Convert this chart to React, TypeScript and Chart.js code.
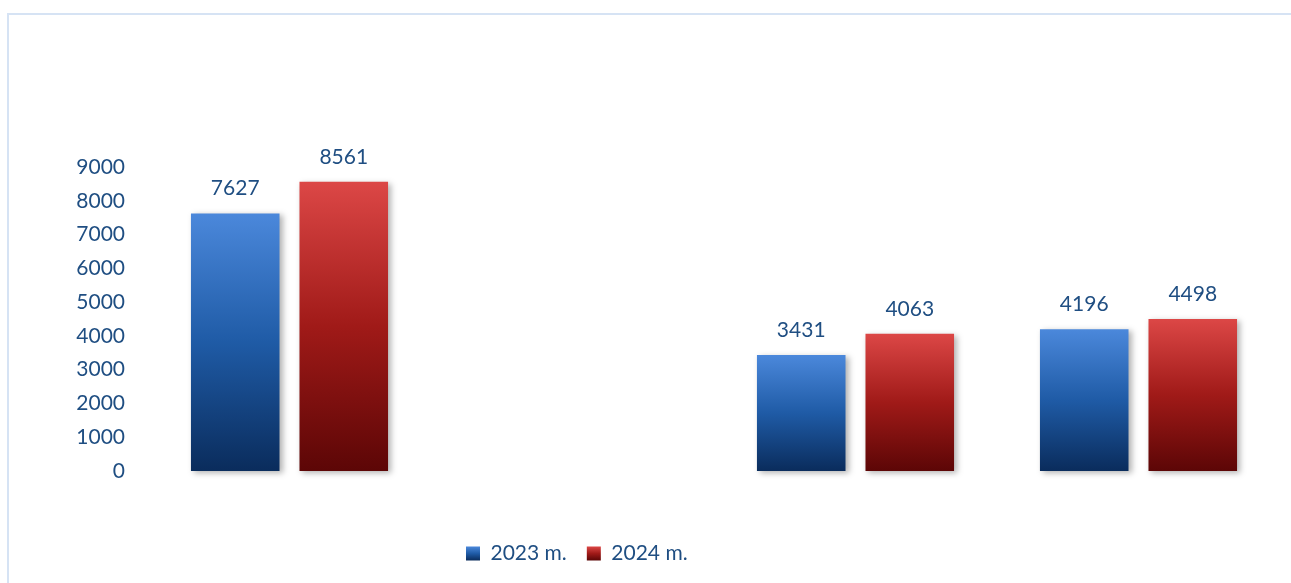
import React, { useEffect, useRef } from "react";
import { Chart, registerables } from "chart.js";

Chart.register(...registerables);

const categories = ["1", "2", "3", "4"];
const series2023 = [7627, null, 3431, 4196];
const series2024 = [8561, null, 4063, 4498];
const seriesLabels = ["2023 m.", "2024 m."];
const yMin = 0;
const yMax = 9000;
const yStep = 1000;

const TEXT = "#1F4E82";
const FONT = "Lato";
const blueStops = ["#4B88DB", "#1F5BA6", "#0A2C5C"];
const redStops = ["#DC4746", "#A01A18", "#5C0606"];

function grad(c: CanvasRenderingContext2D, top: number, bottom: number, stops: string[]) {
  const g = c.createLinearGradient(0, top, 0, bottom);
  g.addColorStop(0, stops[0]);
  g.addColorStop(0.5, stops[1]);
  g.addColorStop(1, stops[2]);
  return g;
}

function barFill(stops: string[]) {
  return (ctx: any) => {
    const chart = ctx.chart;
    const ys = chart.scales && chart.scales.y;
    if (!chart.chartArea || !ys || ctx.raw == null || ctx.type !== "data") return stops[1];
    const top = ys.getPixelForValue(ctx.raw);
    const bottom = ys.getPixelForValue(0);
    return grad(chart.ctx, top, bottom, stops);
  };
}

const shadowPlugin = {
  id: "barShadow",
  beforeDatasetsDraw(chart: any) {
    const c = chart.ctx;
    c.save();
    c.shadowColor = "rgba(0,0,0,0.3)";
    c.shadowBlur = 6;
    c.shadowOffsetX = 3;
    c.shadowOffsetY = 2;
  },
  afterDatasetsDraw(chart: any) {
    chart.ctx.restore();
  },
};

const valueLabels = {
  id: "valueLabels",
  afterDatasetsDraw(chart: any) {
    const c = chart.ctx;
    c.save();
    c.font = `21px ${FONT}`;
    c.fillStyle = TEXT;
    c.textAlign = "center";
    c.textBaseline = "middle";
    chart.data.datasets.forEach((ds: any, i: number) => {
      const meta = chart.getDatasetMeta(i);
      meta.data.forEach((bar: any, j: number) => {
        const v = ds.data[j];
        if (v == null) return;
        c.fillText(String(v), bar.x, bar.y - 25);
      });
    });
    c.restore();
  },
};

const legendPlace = {
  id: "legendPlace",
  afterUpdate(chart: any) {
    const lg = chart.legend;
    if (!lg || !lg.lineWidths) return;
    const pad = lg.options.labels.padding;
    const h = lg.bottom - lg.top;
    const T = 523;
    lg.top = T;
    lg.bottom = T + h;
    const W = lg.right - lg.left;
    const S = 2 * 466 - pad + lg.lineWidths[0];
    lg.left = (S - W) / 2;
    lg.right = lg.left + W;
    const boxTop = T + pad + 3.5;
    const stops = [blueStops, redStops];
    (lg.legendItems || []).forEach((it: any, i: number) => {
      it.fillStyle = grad(chart.ctx, boxTop, boxTop + 14, stops[i % 2]);
      it.lineWidth = 0;
    });
  },
};

export default function App() {
  const ref = useRef<HTMLCanvasElement | null>(null);
  useEffect(() => {
    if (!ref.current) return;
    const chart = new Chart(ref.current, {
      type: "bar",
      data: {
        labels: categories,
        datasets: [
          {
            label: seriesLabels[0],
            data: series2023,
            backgroundColor: barFill(blueStops),
            borderWidth: 0,
            categoryPercentage: 0.767,
            barPercentage: 0.816,
            clip: false as any,
          },
          {
            label: seriesLabels[1],
            data: series2024,
            backgroundColor: barFill(redStops),
            borderWidth: 0,
            categoryPercentage: 0.767,
            barPercentage: 0.816,
            clip: false as any,
          },
        ],
      },
      options: {
        animation: false,
        responsive: false,
        maintainAspectRatio: false,
        layout: { padding: { top: 167, left: 0, right: 11, bottom: 61 } },
        scales: {
          x: { display: false },
          y: {
            min: yMin,
            max: yMax,
            border: { display: false },
            grid: { display: false, drawTicks: false },
            afterFit: (s: any) => {
              s.width = 148;
            },
            ticks: {
              stepSize: yStep,
              padding: 23,
              color: TEXT,
              font: { family: FONT, size: 21 },
              callback: (v: any) => String(v),
            },
          },
        },
        plugins: {
          tooltip: { enabled: false },
          legend: {
            position: "bottom",
            labels: {
              boxWidth: 14,
              boxHeight: 14,
              padding: 20,
              color: TEXT,
              font: { family: FONT, size: 21 },
            },
          },
        },
      },
      plugins: [shadowPlugin, valueLabels, legendPlace],
    });
    return () => chart.destroy();
  }, []);

  return (
    <div
      style={{
        position: "fixed",
        left: 0,
        top: 0,
        width: 1291,
        height: 583,
        overflow: "hidden",
        background: "#fff",
      }}
    >
      <div
        style={{
          position: "absolute",
          left: 7,
          top: 13,
          width: 1400,
          height: 700,
          border: "2px solid #D6E3F4",
          boxSizing: "border-box",
        }}
      />
      <canvas
        ref={ref}
        width={1291}
        height={583}
        style={{ position: "absolute", left: 0, top: 0, width: 1291, height: 583 }}
      />
    </div>
  );
}
